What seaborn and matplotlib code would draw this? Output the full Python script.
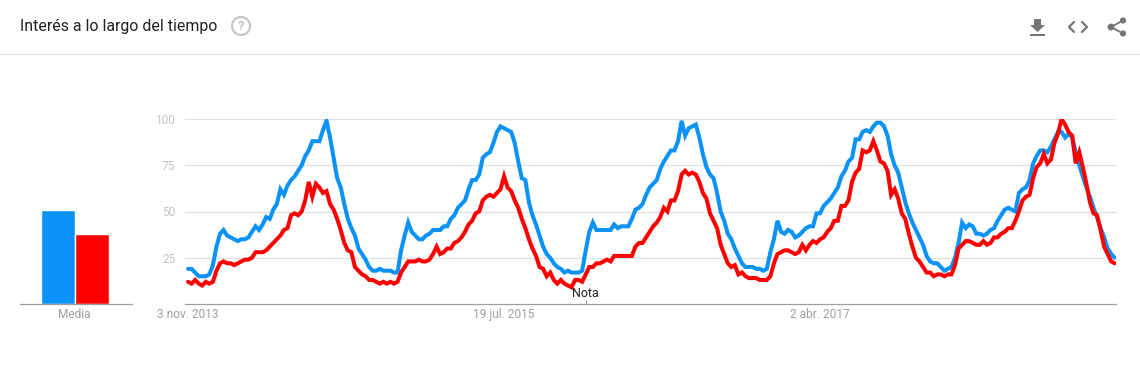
import numpy as np
import pandas as pd
import matplotlib.pyplot as plt
from matplotlib.patches import Circle, Polygon, Rectangle
from matplotlib.lines import Line2D
import seaborn as sns

# weekly values
blue = [19, 19, 17, 15, 15, 15, 16, 21, 31, 38, 40, 37, 36, 35, 34, 35, 35, 36, 39, 42,
        40, 43, 47, 46, 51, 54, 62, 59, 64, 67, 69, 72, 75, 80, 83, 88, 88, 88, 94, 99,
        90, 79, 68, 63, 54, 46, 41, 37, 30, 27, 24, 20, 18, 18, 19, 18, 18, 18, 17, 17,
        29, 37, 44, 39, 37, 35, 35, 37, 38, 40, 40, 40, 42, 42, 46, 48, 52, 54, 56, 62,
        67, 67, 70, 79, 81, 82, 87, 93, 96, 95, 94, 93, 87, 77, 68, 67, 55, 48, 43, 37,
        31, 27, 25, 22, 20, 19, 17, 18, 17, 17, 17, 18, 29, 39, 44, 40, 40, 40, 40, 40,
        43, 41, 42, 42, 42, 46, 51, 52, 54, 59, 63, 65, 67, 73, 77, 80, 83, 83, 88, 99,
        91, 95, 96, 97, 90, 81, 74, 70, 68, 60, 50, 45, 38, 35, 30, 26, 22, 20, 20, 20,
        19, 19, 18, 19, 28, 35, 45, 39, 38, 40, 39, 36, 37, 39, 41, 42, 42, 49, 49, 53,
        55, 57, 60, 63, 69, 72, 77, 79, 89, 89, 93, 94, 93, 96, 98, 98, 96, 91, 81, 75,
        71, 63, 55, 49, 44, 40, 36, 32, 26, 23, 22, 22, 20, 18, 19, 20, 25, 33, 44, 41,
        43, 42, 38, 38, 37, 38, 40, 41, 45, 48, 51, 52, 51, 50, 60, 62, 63, 67, 76, 80,
        83, 83, 82, 85, 89, 93, 93, 90, 92, 90, 82, 75, 69, 63, 58, 52, 47, 41, 36, 30, 27, 25]
red = [12, 11, 13, 11, 10, 12, 11, 12, 18, 22, 23, 22, 22, 21, 22, 23, 24, 24, 25, 28,
       28, 28, 29, 31, 33, 35, 37, 40, 41, 48, 49, 48, 50, 56, 66, 58, 65, 63, 60, 61,
       54, 51, 46, 40, 33, 29, 28, 20, 18, 16, 15, 13, 13, 12, 11, 12, 11, 12, 11, 12,
       17, 20, 23, 23, 23, 24, 23, 23, 24, 27, 31, 27, 28, 30, 30, 33, 34, 36, 39, 43,
       45, 49, 50, 56, 58, 59, 58, 60, 62, 69, 63, 61, 56, 52, 46, 41, 35, 30, 26, 20,
       19, 15, 17, 13, 11, 13, 11, 10, 9, 13, 13, 12, 16, 20, 20, 22, 22, 23, 24, 23,
       26, 26, 26, 26, 26, 26, 31, 33, 33, 36, 39, 42, 44, 47, 52, 50, 56, 56, 61, 70,
       72, 70, 71, 70, 66, 60, 57, 49, 45, 41, 32, 27, 22, 20, 21, 16, 17, 15, 14, 14,
       14, 13, 13, 13, 15, 22, 27, 28, 29, 29, 28, 27, 28, 32, 29, 32, 34, 33, 35, 36,
       39, 41, 45, 45, 53, 53, 56, 66, 71, 73, 83, 82, 83, 88, 83, 77, 76, 72, 59, 62,
       57, 49, 46, 38, 31, 25, 23, 20, 17, 17, 15, 16, 16, 15, 16, 16, 21, 30, 32, 34,
       34, 33, 32, 32, 34, 32, 33, 36, 36, 38, 39, 41, 41, 45, 50, 56, 58, 59, 68, 74,
       76, 81, 76, 78, 87, 92, 100, 97, 93, 91, 76, 82, 74, 65, 55, 49, 48, 40, 31, 27, 23, 22]
media = [51, 38]
tick_dates = ["2013-11-03", "2015-07-19", "2017-04-02"]
tick_labels = ["3 nov. 2013", "19 jul. 2015", "2 abr. 2017"]
y_ticks = [25, 50, 75, 100]
nota_date = "2015-12-27"

BLUE = "#0a92f6"
RED = "#ff0000"
W, H = 1140, 385

sns.set_style("white")
plt.rcParams["font.family"] = ["Roboto", "DejaVu Sans"]

weeks = pd.date_range("2013-11-03", periods=len(blue), freq="7D")
df = pd.DataFrame({"fecha": weeks, "azul": blue, "rojo": red})
df = df.melt(id_vars="fecha", var_name="serie", value_name="valor")

fig = plt.figure(figsize=(W / 100, H / 100), dpi=100)


def px_axes(x0, x1, y0, y1):
    # axes from pixel box, y measured from the top
    return fig.add_axes([x0 / W, 1 - y1 / H, (x1 - x0) / W, (y1 - y0) / H])


# header and icons, drawn in pixel coordinates
top = fig.add_axes([0, 0, 1, 1])
top.set_xlim(0, W)
top.set_ylim(H, 0)
top.axis("off")
top.add_line(Line2D([0, W], [54, 54], color="#e0e0e0", lw=0.8))
top.text(20, 27, "Interés a lo largo del tiempo", fontsize=11.4, color="#212121",
         va="center", ha="left")
top.add_patch(Circle((241, 26), 9, fill=False, ec="#c4c4c4", lw=1.5))
top.text(241, 26, "?", fontsize=9.5, color="#c4c4c4", ha="center", va="center",
         fontweight="bold")
icon = "#757575"
top.add_patch(Polygon([(1034, 19), (1041, 19), (1041, 25), (1045, 25), (1037.5, 32), (1030, 25), (1034, 25)],
                      color=icon, lw=0))
top.add_patch(Rectangle((1030, 34), 15, 1.8, color=icon, lw=0))
top.add_line(Line2D([1074, 1069, 1074], [22, 27, 32], color=icon, lw=1.6))
top.add_line(Line2D([1082, 1087, 1082], [22, 27, 32], color=icon, lw=1.6))
top.add_line(Line2D([1123, 1111, 1123], [20.5, 27, 33.5], color=icon, lw=1.3))
for cx, cy, r in [(1123, 20.5, 3.1), (1111, 27, 3.4), (1123, 33.5, 3.1)]:
    top.add_patch(Circle((cx, cy), r, color=icon, lw=0))

# small bars on the left
ax_bar = px_axes(20, 132, 119, 304)
sns.barplot(x=["Media", "Media"], y=media, hue=["azul", "rojo"], palette=[BLUE, RED],
            gap=0, saturation=1, legend=False, ax=ax_bar)
ax_bar.set_xlim(-0.642, 0.676)
ax_bar.set_ylim(0, 100)
ax_bar.set_yticks([])
ax_bar.patch.set_alpha(0)
sns.despine(ax=ax_bar, left=True)
ax_bar.spines["bottom"].set_color("#9e9e9e")
ax_bar.spines["bottom"].set_linewidth(0.9)
ax_bar.tick_params(axis="x", length=0, pad=3, labelsize=8.6, labelcolor="#9e9e9e")

# main lines, tips get cut at the top of the axes
ax = px_axes(185, 1116, 119, 304)
ax.patch.set_alpha(0)
sns.lineplot(data=df, x="fecha", y="valor", hue="serie", palette=[BLUE, RED],
             linewidth=2.9, legend=False, ax=ax)
for ln in ax.get_lines():
    ln.set_solid_joinstyle("miter")
ax.set_xlim(weeks[0] - pd.Timedelta(days=6), weeks[-1] + pd.Timedelta(days=2.4))
ax.set_ylim(0, 100)
ax.set_xlabel("")
ax.set_ylabel("")
ax.set_yticks(y_ticks)
ax.set_xticks(pd.to_datetime(tick_dates))
ax.set_xticklabels(tick_labels)
ax.yaxis.grid(True, color="#e0e0e0", lw=0.9)
ax.set_axisbelow(True)
sns.despine(ax=ax, left=True)
ax.spines["bottom"].set_color("#9e9e9e")
ax.spines["bottom"].set_linewidth(0.9)
ax.tick_params(axis="y", length=0, pad=7, labelsize=8.6, labelcolor="#c4c4c4")
ax.tick_params(axis="x", length=0, pad=3, labelsize=8.6, labelcolor="#9e9e9e")

# annotation marker
nota = pd.Timestamp(nota_date)
ax.plot([nota, nota], [0, 2.2], color="#9e9e9e", lw=0.8)
ax.text(nota, 5.8, "Nota", fontsize=9, color="#212121", ha="center", va="center")

fig.savefig("out.png", dpi=100)
